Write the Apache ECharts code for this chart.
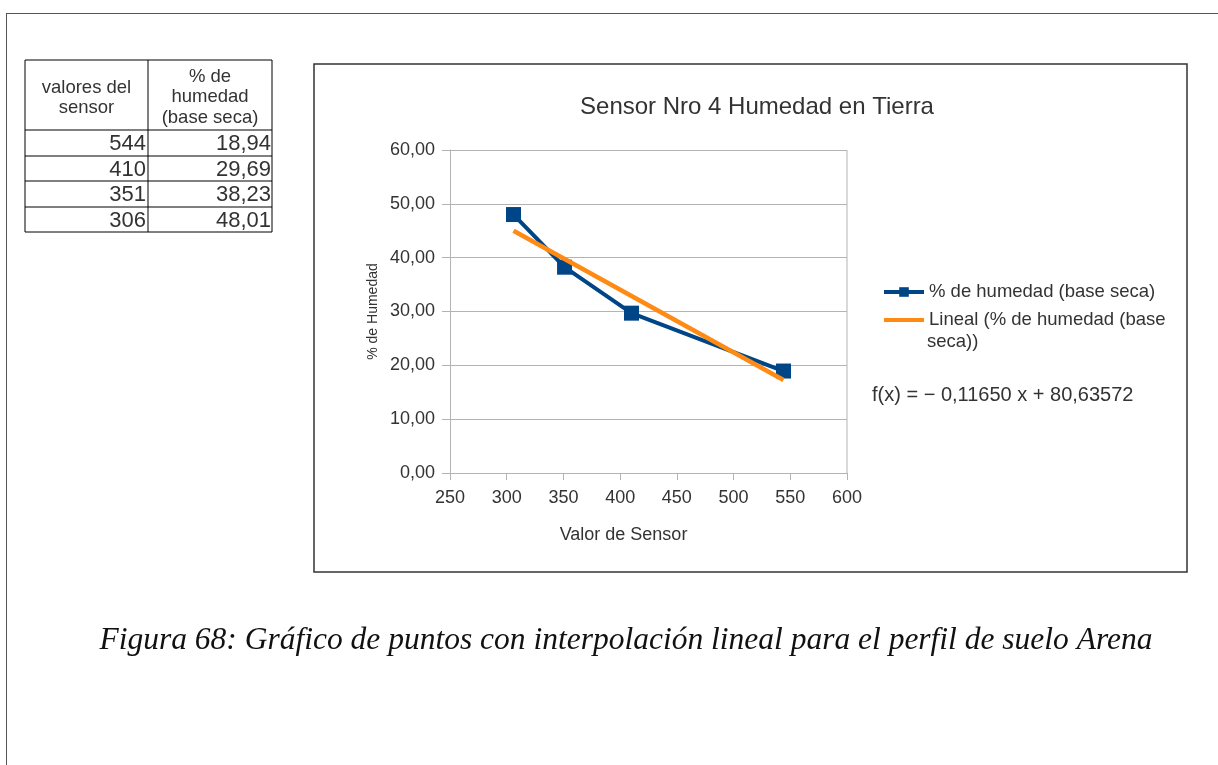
<!DOCTYPE html>
<html>
<head>
<meta charset="utf-8">
<script src="https://cdn.jsdelivr.net/npm/echarts@6/dist/echarts.min.js"></script>
<style>
html,body{margin:0;padding:0;background:#fff;}
#c{width:1218px;height:765px;}
</style>
</head>
<body>
<div id="c"></div>
<script>
// Data
var sensorValues = [544, 410, 351, 306];
var humidityValues = [18.94, 29.69, 38.23, 48.01];
var humidityLabels = ['18,94', '29,69', '38,23', '48,01'];
var trendX = [306, 544];
var trendY = [44.99, 17.26];
var seriesName = '% de humedad (base seca)';
var trendName = 'Lineal (% de humedad (base seca))';
var trendLegendLine1 = 'Lineal (% de humedad (base';
var trendLegendLine2 = 'seca))';
var equationText = 'f(x) = \u2212 0,11650 x + 80,63572';
var titleText = 'Sensor Nro 4 Humedad en Tierra';
var xAxisName = 'Valor de Sensor';
var yAxisName = '% de Humedad';
var captionText = 'Figura 68: Gráfico de puntos con interpolación lineal para el perfil de suelo Arena';
var tableHeaders = ['valores del\nsensor', '% de\nhumedad\n(base seca)'];

var SANS = '"Liberation Sans", Arial, sans-serif';
var BLUE = '#004586';
var ORANGE = '#ff8a14';
var GRID = '#b3b3b3';

var chart = echarts.init(document.getElementById('c'), null, {renderer: 'canvas'});

var mainData = sensorValues.map(function (v, i) { return [v, humidityValues[i]]; });
var trendData = trendX.map(function (v, i) { return [v, trendY[i]]; });

// Table graphics
var tL = 25, tC = 148, tR = 272, tTop = 60;
var rowYs = [130, 156, 181, 207, 232];
var g = [];
// outer page border
g.push({type: 'line', shape: {x1: 6, y1: 13.5, x2: 1218, y2: 13.5}, style: {stroke: '#555', lineWidth: 1}});
g.push({type: 'line', shape: {x1: 6.5, y1: 13, x2: 6.5, y2: 765}, style: {stroke: '#555', lineWidth: 1}});
// chart frame
g.push({type: 'rect', shape: {x: 314, y: 64, width: 873, height: 508}, style: {fill: 'none', stroke: '#333', lineWidth: 1.5}});
// table
g.push({type: 'rect', shape: {x: tL, y: tTop, width: tR - tL, height: rowYs[4] - tTop}, style: {fill: 'none', stroke: '#000', lineWidth: 1}});
g.push({type: 'line', shape: {x1: tC, y1: tTop, x2: tC, y2: rowYs[4]}, style: {stroke: '#000', lineWidth: 1}});
for (var r = 0; r < 4; r++) {
  g.push({type: 'line', shape: {x1: tL, y1: rowYs[r], x2: tR, y2: rowYs[r]}, style: {stroke: '#000', lineWidth: 1}});
}
g.push({type: 'text', x: (tL + tC) / 2, y: 98, style: {text: tableHeaders[0], font: '18.5px ' + SANS, fill: '#333', textAlign: 'center', textVerticalAlign: 'middle', lineHeight: 20}});
g.push({type: 'text', x: (tC + tR) / 2, y: 97, style: {text: tableHeaders[1], font: '18.5px ' + SANS, fill: '#333', textAlign: 'center', textVerticalAlign: 'middle', lineHeight: 20.5}});
for (var i = 0; i < sensorValues.length; i++) {
  var cy = (rowYs[i] + rowYs[i + 1]) / 2 + 1;
  g.push({type: 'text', x: tC - 2, y: cy, style: {text: String(sensorValues[i]), font: '22px ' + SANS, fill: '#333', textAlign: 'right', textVerticalAlign: 'middle'}});
  g.push({type: 'text', x: tR - 1, y: cy, style: {text: humidityLabels[i], font: '22px ' + SANS, fill: '#333', textAlign: 'right', textVerticalAlign: 'middle'}});
}
// second line of the trend legend entry
g.push({type: 'text', x: 927, y: 342, style: {text: trendLegendLine2, font: '18.5px ' + SANS, fill: '#333', textAlign: 'left', textVerticalAlign: 'middle'}});
// equation
g.push({type: 'text', x: 872, y: 395, style: {text: equationText, font: '20px ' + SANS, fill: '#333', textAlign: 'left', textVerticalAlign: 'middle'}});
// caption
g.push({type: 'text', x: 626, y: 641, style: {text: captionText, font: 'italic 31.5px "Liberation Serif", "DejaVu Serif", serif', fill: '#111', textAlign: 'center', textVerticalAlign: 'middle'}});

var option = {
  animation: false,
  backgroundColor: '#fff',
  title: {
    text: titleText,
    left: 752, top: 90,
    textAlign: 'center',
    textStyle: {fontFamily: SANS, fontSize: 24, fontWeight: 'normal', color: '#333'}
  },
  grid: {left: 450, right: 371, top: 150, bottom: 292, containLabel: false, show: false},
  legend: {
    left: 882, top: 281, orient: 'vertical', itemGap: 6,
    itemWidth: 40, itemHeight: 12, padding: 0,
    symbolKeepAspect: true,
    textStyle: {fontFamily: SANS, fontSize: 18.5, color: '#333', lineHeight: 22},
    formatter: function (n) { return n === trendName ? trendLegendLine1 : n; },
    data: [
      {name: seriesName, lineStyle: {width: 4, color: BLUE}},
      {name: trendName, icon: 'path://M0,0 L40,0 L40,4 L0,4 Z', symbolKeepAspect: true, itemStyle: {color: ORANGE}}
    ]
  },
  xAxis: {
    type: 'value', min: 250, max: 600, interval: 50,
    name: xAxisName, nameLocation: 'middle', nameGap: 53,
    nameTextStyle: {fontFamily: SANS, fontSize: 18, color: '#333', padding: [0, 50, 0, 0]},
    axisLine: {show: true, lineStyle: {color: GRID, width: 1}},
    axisTick: {show: true, length: 7, lineStyle: {color: GRID}},
    axisLabel: {margin: 16, fontFamily: SANS, fontSize: 18, color: '#333'},
    splitLine: {show: false}
  },
  yAxis: {
    type: 'value', min: 0, max: 60, interval: 10,
    name: yAxisName, nameLocation: 'middle', nameGap: 70, nameRotate: 90,
    nameTextStyle: {fontFamily: SANS, fontSize: 14, color: '#333'},
    axisLine: {show: true, lineStyle: {color: GRID, width: 1}},
    axisTick: {show: true, length: 8, lineStyle: {color: GRID}},
    axisLabel: {margin: 15, fontFamily: SANS, fontSize: 18, color: '#333',
      formatter: function (v) { return v.toFixed(2).replace('.', ','); }},
    splitLine: {show: true, lineStyle: {color: GRID, width: 1}}
  },
  series: [
    {
      name: seriesName, type: 'line', data: mainData,
      symbol: 'rect', symbolSize: 15,
      lineStyle: {color: BLUE, width: 4},
      itemStyle: {color: BLUE},
      z: 2
    },
    {
      name: trendName, type: 'line', data: trendData,
      symbol: 'none',
      lineStyle: {color: ORANGE, width: 4.5},
      itemStyle: {color: ORANGE},
      z: 3
    },
    {
      // right border of plot wall
      type: 'line', silent: true, symbol: 'none', data: [[600, 0], [600, 60]],
      lineStyle: {color: GRID, width: 1}, z: 1
    }
  ],
  graphic: g
};
chart.setOption(option);
</script>
</body>
</html>
